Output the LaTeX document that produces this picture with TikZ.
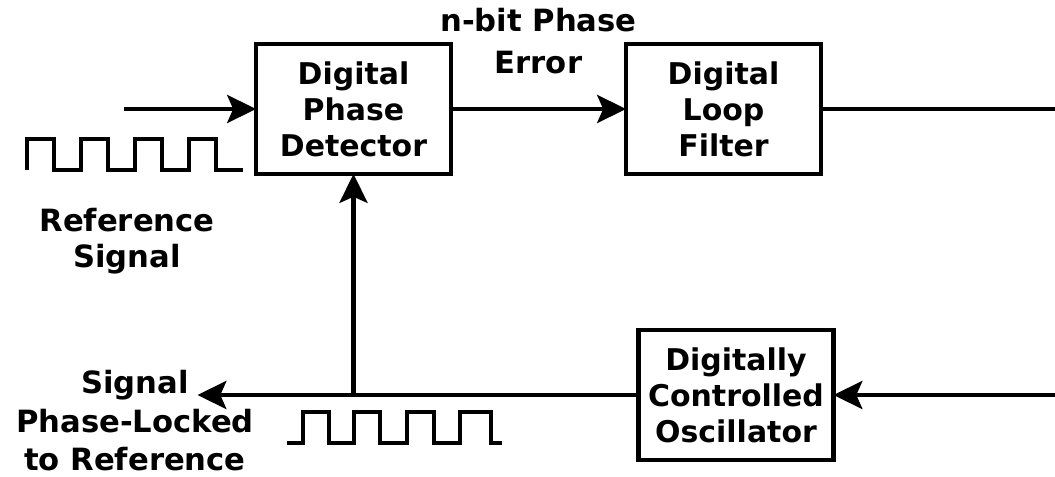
\documentclass[tikz,border=0pt]{standalone}
\usepackage{fontspec}
\setmainfont{DejaVu Sans}
\usetikzlibrary{arrows.meta, positioning}

\begin{document}
\begin{tikzpicture}[
  node distance=1.0cm and 4.375cm,
  block/.style={rectangle, draw=black, line width=3.2pt, minimum width=4.875cm, minimum height=3.25cm, outer sep=0pt, inner sep=0pt, text centered, align=center, font=\bfseries\fontsize{21.3}{25.6}\selectfont},
  lbl/.style={inner sep=0pt, align=center, font=\bfseries\fontsize{21.8}{25.6}\selectfont},
  arrow/.style={line width=3.2pt, -{Stealth[length=0.72cm, width=0.7cm, inset=0.15cm]}},
  wire/.style={line width=3.2pt},
  wave/.style={line width=3.2pt}
]
\useasboundingbox (0,0) rectangle (26.375,-11.925);

% Blocks
\node (pd) [block] at (8.8375,-2.725) {Digital\\Phase\\Detector};
\node (lf) [block, right=of pd] {Digital\\Loop\\Filter};
\node (dco) [block, below=3.9cm of lf, xshift=0.3125cm] {Digitally\\Controlled\\Oscillator};

% Open ends
\coordinate[left=3.3cm of pd.west] (refin);
\coordinate[right=5.85cm of lf.east] (lfout);
\coordinate[right=5.55cm of dco.east] (dcoin);
\coordinate[left=11.025cm of dco.west] (lockout);
\coordinate (tap) at (pd.south |- dco.west);

% Arrows
\draw [arrow] (refin) -- (pd);
\draw [arrow] (pd) -- (lf) node[midway, above=0.825cm, lbl] (errlbl) {n-bit Phase\\[4.3pt]Error};
\draw [wire] (lf) -- (lfout);
\draw [arrow] (dcoin) -- (dco);
\draw [arrow] (dco) -- (lockout);
\draw [arrow] (tap) -- (pd);

% Labels
\node (reflbl) [lbl] at (3.175,-6.025) {Reference\\Signal};
\node (locklbl) [lbl] at (3.375,-10.525) {Signal\\[1.8pt]Phase-Locked\\[1.8pt]to Reference};

% Waveforms
\draw [wave] (0.675,-4.25) -- ++(0,0.775) -- ++(0.675,0) -- ++(0,-0.775) -- ++(0.675,0)
  -- ++(0,0.775) -- ++(0.675,0) -- ++(0,-0.775) -- ++(0.675,0)
  -- ++(0,0.775) -- ++(0.675,0) -- ++(0,-0.775) -- ++(0.675,0)
  -- ++(0,0.775) -- ++(0.675,0) -- ++(0,-0.775) -- ++(0.675,0);
\draw [wave] (7.175,-11.075) -- (7.575,-11.075) -- (7.575,-10.3) -- (8.225,-10.3) -- (8.225,-11.075)
  -- (8.85,-11.075) -- (8.85,-10.3) -- (9.5,-10.3) -- (9.5,-11.075)
  -- (10.175,-11.075) -- (10.175,-10.3) -- (10.85,-10.3) -- (10.85,-11.075)
  -- (11.5,-11.075) -- (11.5,-10.3) -- (12.275,-10.3) -- (12.275,-11.075) -- (12.55,-11.075);
\end{tikzpicture}
\end{document}
